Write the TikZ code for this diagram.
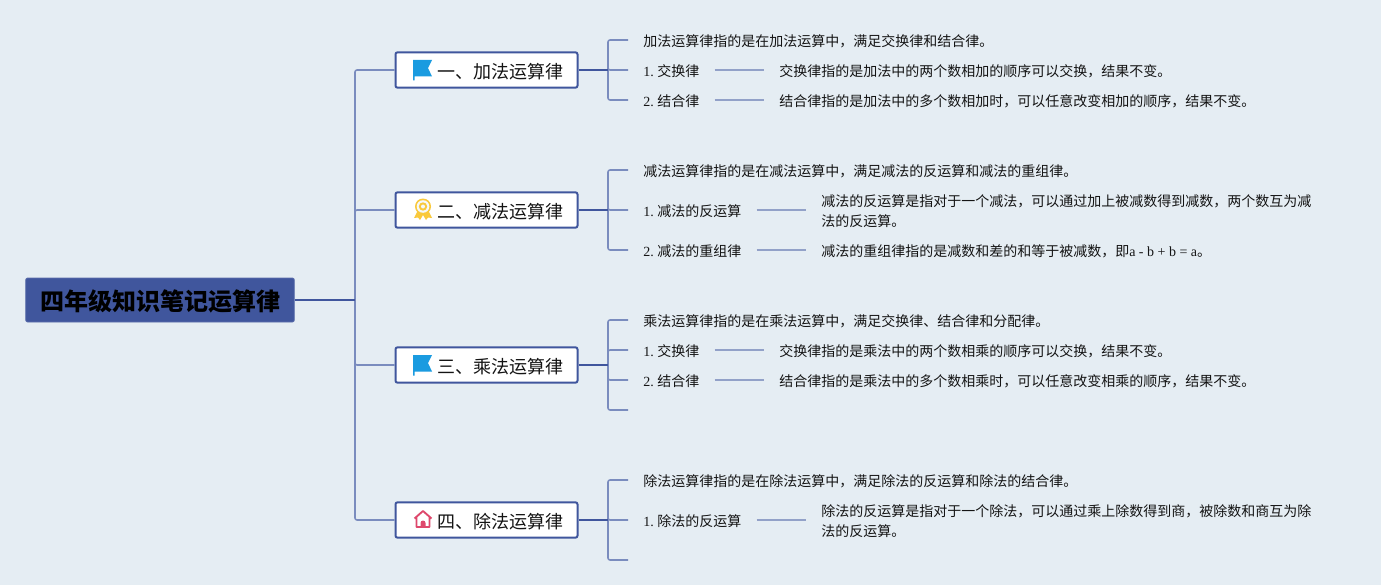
\documentclass[tikz,border=0pt]{standalone}
\usepackage{fontspec}
\setmainfont{Noto Sans CJK SC}
\newfontfamily\lat{Liberation Serif}
\usepackage{xcolor}
\usepackage{tikz}
\usetikzlibrary{positioning}

\definecolor{bgcol}{RGB}{229,237,243}
\definecolor{rootcol}{RGB}{64,86,157}
\definecolor{twigcol}{RGB}{122,140,190}
\definecolor{rulecol}{RGB}{146,161,200}
\definecolor{inkcol}{RGB}{20,20,20}

\tikzset{
  rootnode/.style={draw=rootcol!85!white, line width=0.6pt, fill=rootcol, rounded corners=1.5pt, minimum width=201.5pt, minimum height=33pt, inner sep=0pt, text=black, font=\fontsize{18}{20}\selectfont\bfseries, execute at begin node={\rule{0pt}{17.4pt}}},
  branch/.style={draw=rootcol, line width=1.5pt, fill=white, rounded corners=1.5pt, minimum width=136.5pt, minimum height=26.5pt, inner sep=0pt, text=inkcol, font=\fontsize{13.5}{16}\selectfont, execute at begin node={\rule{0pt}{13.9pt}}},
  leaf/.style={anchor=west, inner xsep=11.25pt, inner ysep=0pt, minimum height=15pt, text=inkcol, align=left, font=\fontsize{10.5}{15}\selectfont\frenchspacing, execute at begin node={\rule{0pt}{10.7pt}}},
  stem/.style={draw=rootcol, line width=1.5pt},
  twig/.style={draw=twigcol, line width=1.15pt, rounded corners=1.5pt},
  rulel/.style={draw=rulecol, line width=1.1pt},
  flagicon/.pic={
    \fill[fill={rgb,255:red,26;green,155;blue,224}] (-10,-10) -- (9,-10) -- (5,-2) -- (9,6.5) -- (-8.5,6.5) -- (-8.5,10.5) -- (-10,10.5) -- cycle;
  },
  medalicon/.pic={
    \definecolor{medalcol}{RGB}{249,201,60}
    \fill[medalcol] (-6,2) -- (-9,8) -- (-5,7.5) -- (-3,10) -- (0,5) -- (3,10) -- (5,7.5) -- (9,8) -- (6,2) -- cycle;
    \fill[medalcol] (0,-3.5) circle (8);
    \fill[white!60!bgcol] (0,-3.5) circle (6.3);
    \fill[medalcol] (0,-3.5) circle (4.2);
    \fill[white!60!bgcol] (0,-3.5) circle (2);
  },
  houseicon/.pic={
    \definecolor{housecol}{RGB}{222,72,108}
    \draw[housecol, line width=1.4pt, line join=round] (-8.5,-1) -- (0,-8.5) -- (8.5,-1) (-6.5,-2) -- (-6.5,7.5) -- (6.5,7.5) -- (6.5,-2);
    \fill[housecol] (-2.5,8) -- (-2.5,3.5) arc[start angle=180, end angle=360, radius=2.5] -- (2.5,8) -- cycle;
  },
}

\begin{document}
\begin{tikzpicture}[x=0.75pt, y=-0.75pt]
    \path[use as bounding box, fill=bgcol] (0,0) rectangle (1381,585);

    \node[rootnode] (root) at (160,300) {四年级知识笔记运算律};
    \coordinate (trunk) at (355,300);

    % first level
    \node[branch] (add) at (486.5,70) {\hspace*{21pt}一、加法运算律};
    \node[branch] (sub) at (486.5,210) {\hspace*{21pt}二、减法运算律};
    \node[branch] (mul) at (486.5,365) {\hspace*{21pt}三、乘法运算律};
    \node[branch] (div) at (486.5,520) {\hspace*{21pt}四、除法运算律};
    \pic at (423,70) {flagicon};
    \pic at (423,210) {medalicon};
    \pic at (423,365) {flagicon};
    \pic at (423,519.5) {houseicon};

    \coordinate (addj) at (608,70);
    \coordinate (subj) at (608,210);
    \coordinate (mulj) at (608,365);
    \coordinate (divj) at (608,520);

    % addition
    \node[leaf] (a0) at (628,40) {加法运算律指的是在加法运算中，满足交换律和结合律。};
    \node[leaf] (a1) at (628,70) {{\lat 1. }交换律};
    \node[leaf] (a2) at (628,100) {{\lat 2. }结合律};
    \node[leaf] (a1t) at (764,70) {交换律指的是加法中的两个数相加的顺序可以交换，结果不变。};
    \node[leaf] (a2t) at (764,100) {结合律指的是加法中的多个数相加时，可以任意改变相加的顺序，结果不变。};

    % subtraction
    \node[leaf] (s0) at (628,170) {减法运算律指的是在减法运算中，满足减法的反运算和减法的重组律。};
    \node[leaf] (s1) at (628,210) {{\lat 1. }减法的反运算};
    \node[leaf] (s2) at (628,250) {{\lat 2. }减法的重组律};
    \node[leaf] (s1t) at (806,211) {减法的反运算是指对于一个减法，可以通过加上被减数得到减数，两个数互为减\\法的反运算。};
    \node[leaf] (s2t) at (806,250) {减法的重组律指的是减数和差的和等于被减数，即{\lat a - b + b = a}。};

    % multiplication
    \node[leaf] (m0) at (628,320) {乘法运算律指的是在乘法运算中，满足交换律、结合律和分配律。};
    \node[leaf] (m1) at (628,350) {{\lat 1. }交换律};
    \node[leaf] (m2) at (628,380) {{\lat 2. }结合律};
    \node[leaf] (m1t) at (764,350) {交换律指的是乘法中的两个数相乘的顺序可以交换，结果不变。};
    \node[leaf] (m2t) at (764,380) {结合律指的是乘法中的多个数相乘时，可以任意改变相乘的顺序，结果不变。};
    \coordinate (m3) at (628,410);

    % division
    \node[leaf] (d0) at (628,480) {除法运算律指的是在除法运算中，满足除法的反运算和除法的结合律。};
    \node[leaf] (d1) at (628,520) {{\lat 1. }除法的反运算};
    \node[leaf] (d1t) at (806,521) {除法的反运算是指对于一个除法，可以通过乘上除数得到商，被除数和商互为除\\法的反运算。};
    \coordinate (d3) at (628,560);

    % connectors
    \foreach \b in {add,sub,mul,div}
      \draw[twig] (trunk) |- (\b.west);
    \draw[stem] (root.east) -- (trunk);
    \foreach \j/\l in {addj/a0.west, addj/a1.west, addj/a2.west,
                       subj/s0.west, subj/s1.west, subj/s2.west,
                       mulj/m0.west, mulj/m1.west, mulj/m2.west, mulj/m3,
                       divj/d0.west, divj/d1.west, divj/d3}
      \draw[twig] (\j) |- (\l);
    \foreach \b in {add,sub,mul,div}
      \draw[stem] (\b.east) -- (\b j);
    \foreach \p/\q in {a1/a1t, a2/a2t, s1/s1t, s2/s2t, m1/m1t, m2/m2t, d1/d1t}
      \draw[rulel] (\p.east) -- (\p.east -| \q.west);
\end{tikzpicture}
\end{document}
